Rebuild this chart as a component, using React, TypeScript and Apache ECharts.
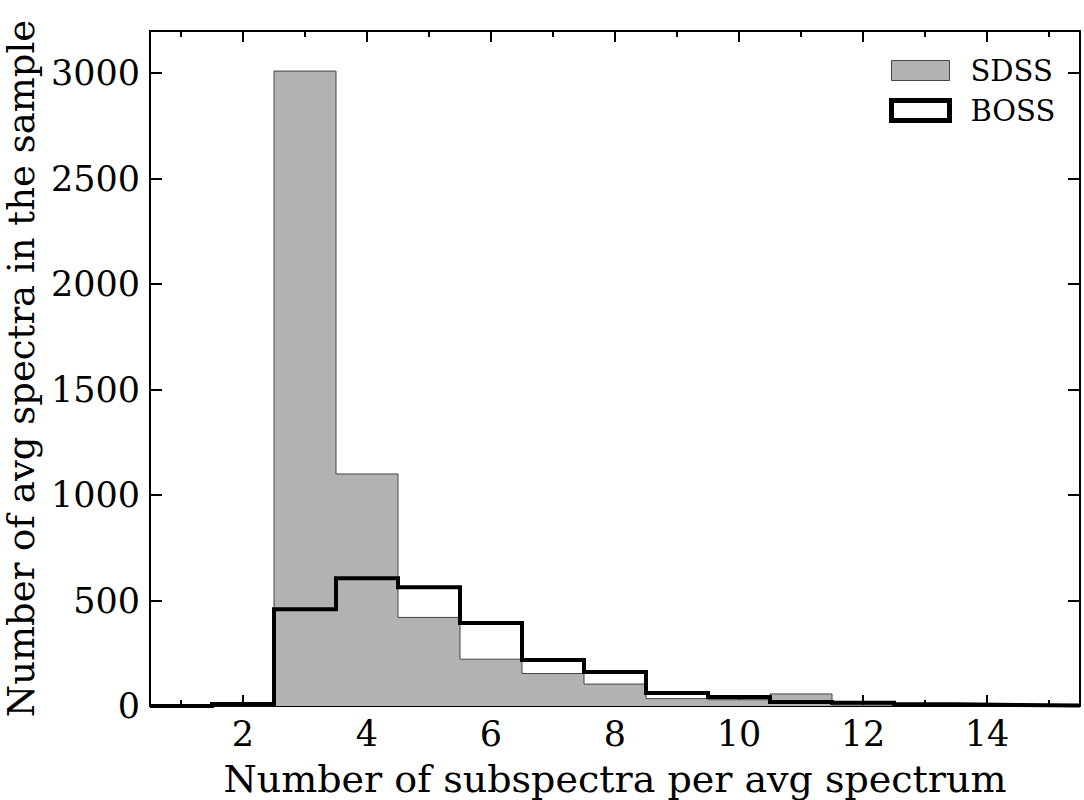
import React, { useEffect, useRef } from "react";
import * as echarts from "echarts";

const binCenters = [1, 2, 3, 4, 5, 6, 7, 8, 9, 10, 11, 12, 13, 14, 15];
const sdssCounts = [0, 0, 3010, 1100, 420, 222, 154, 104, 35, 30, 57, 5, 2, 0, 0];
const bossCounts = [0, 10, 459, 606, 563, 393, 218, 161, 62, 43, 19, 15, 8, 5, 2];
const xMajorTicks = [2, 4, 6, 8, 10, 12, 14];
const xMinorTicks = [1, 3, 5, 7, 9, 11, 13, 15];
const yTicks = [0, 500, 1000, 1500, 2000, 2500, 3000];

function stepPoints(counts: number[]): number[][] {
  const pts: number[][] = [[binCenters[0] - 0.5, 0]];
  counts.forEach((v, i) => {
    pts.push([binCenters[i] - 0.5, v]);
    pts.push([binCenters[i] + 0.5, v]);
  });
  pts.push([binCenters[binCenters.length - 1] + 0.5, 0]);
  return pts;
}

const FONT = "DejaVu Serif";

export default function App() {
  const ref = useRef<HTMLDivElement>(null);
  useEffect(() => {
    if (!ref.current) return;
    const chart = echarts.init(ref.current, null, { renderer: "svg" });
    const xBase = { type: "value", min: 0.5, max: 15.5, splitLine: { show: false } };
    const yBase = { type: "value", min: 0, max: 3200, splitLine: { show: false } };
    const plain = (v: number) => String(v);
    chart.setOption({
      animation: false,
      backgroundColor: "#fff",
      textStyle: { fontFamily: FONT },
      grid: { left: 150, right: 4, top: 31, bottom: 94, containLabel: false, outerBoundsMode: "none" },
      legend: {
        left: 884,
        top: 51,
        orient: "vertical",
        itemWidth: 58,
        itemHeight: 20,
        itemGap: 11,
        textStyle: { fontFamily: FONT, fontSize: 29, color: "#000", padding: [0, 0, 0, 16] },
        data: [
          { name: "SDSS", icon: "rect", itemStyle: { color: "#b2b2b2", borderColor: "#444", borderWidth: 1 } },
          { name: "BOSS", icon: "rect", itemStyle: { color: "#fff", borderColor: "#000", borderWidth: 5 } },
        ],
      },
      xAxis: [
        {
          ...xBase,
          position: "bottom",
          name: "Number of subspectra per avg spectrum",
          nameLocation: "middle",
          nameGap: 54,
          nameTextStyle: { fontFamily: FONT, fontSize: 38, color: "#000" },
          axisLine: { lineStyle: { color: "#000", width: 2 } },
          axisTick: { inside: true, length: 11, customValues: xMajorTicks, lineStyle: { color: "#000", width: 2 } },
          axisLabel: { customValues: xMajorTicks, formatter: plain, fontFamily: FONT, fontSize: 35, color: "#000", margin: 10 },
        },
        {
          ...xBase,
          position: "bottom",
          axisLine: { show: false },
          axisTick: { inside: true, length: 6, customValues: xMinorTicks, lineStyle: { color: "#000", width: 2 } },
          axisLabel: { show: false },
        },
        {
          ...xBase,
          position: "top",
          axisLine: { lineStyle: { color: "#000", width: 2 } },
          axisTick: { inside: true, length: 11, customValues: xMajorTicks, lineStyle: { color: "#000", width: 2 } },
          axisLabel: { show: false },
        },
        {
          ...xBase,
          position: "top",
          axisLine: { show: false },
          axisTick: { inside: true, length: 6, customValues: xMinorTicks, lineStyle: { color: "#000", width: 2 } },
          axisLabel: { show: false },
        },
      ],
      yAxis: [
        {
          ...yBase,
          position: "left",
          name: "Number of avg spectra in the sample",
          nameLocation: "middle",
          nameGap: 106,
          nameRotate: 90,
          nameTextStyle: { fontFamily: FONT, fontSize: 37, color: "#000" },
          axisLine: { lineStyle: { color: "#000", width: 2 } },
          axisTick: { inside: true, length: 12, customValues: yTicks, lineStyle: { color: "#000", width: 2 } },
          axisLabel: { customValues: yTicks, formatter: plain, fontFamily: FONT, fontSize: 35, color: "#000", margin: 10 },
        },
        {
          ...yBase,
          position: "right",
          axisLine: { lineStyle: { color: "#000", width: 2 } },
          axisTick: { inside: true, length: 12, customValues: yTicks, lineStyle: { color: "#000", width: 2 } },
          axisLabel: { show: false },
        },
      ],
      series: [
        {
          name: "SDSS",
          type: "line",
          xAxisIndex: 0,
          yAxisIndex: 0,
          data: stepPoints(sdssCounts),
          symbol: "none",
          lineStyle: { color: "#444", width: 1 },
          itemStyle: { color: "#b2b2b2" },
          areaStyle: { color: "#b2b2b2", opacity: 1 },
          z: 2,
        },
        {
          name: "BOSS",
          type: "line",
          xAxisIndex: 0,
          yAxisIndex: 0,
          data: stepPoints(bossCounts),
          symbol: "none",
          lineStyle: { color: "#000", width: 4, join: "miter" },
          itemStyle: { color: "#000" },
          z: 3,
        },
      ],
    });
    return () => chart.dispose();
  }, []);
  return <div ref={ref} style={{ position: "fixed", left: 0, top: 0, width: 1084, height: 800 }} />;
}
